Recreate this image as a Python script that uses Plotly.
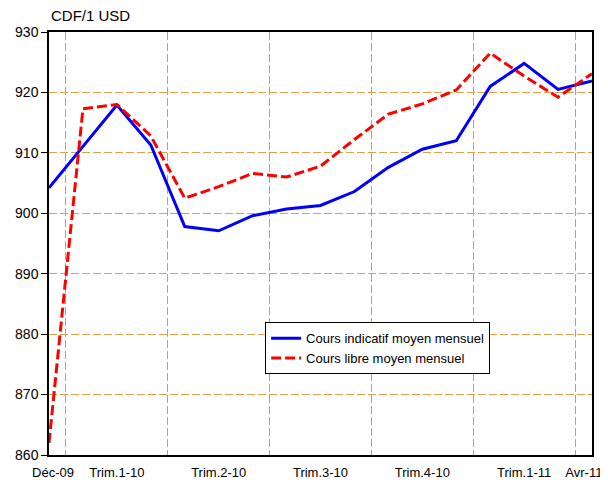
import plotly.graph_objects as go

months = ["Déc-09", "Jan-10", "Fév-10", "Mar-10", "Avr-10", "Mai-10", "Juin-10",
          "Juil-10", "Août-10", "Sep-10", "Oct-10", "Nov-10", "Déc-10",
          "Jan-11", "Fév-11", "Mar-11", "Avr-11"]
cours_indicatif = [904.2, 911.0, 917.9, 911.3, 897.8, 897.1, 899.6, 900.7, 901.3,
                   903.6, 907.6, 910.6, 912.0, 921.0, 924.8, 920.5, 921.9]
cours_libre = [862.0, 917.3, 918.0, 912.8, 902.5, 904.4, 906.6, 906.0, 907.8,
               912.2, 916.4, 918.1, 920.4, 926.5, 922.7, 919.2, 923.1]
label_pos = [0.12, 2, 5, 8, 11, 14, 15.76]
label_text = ["Déc-09", "Trim.1-10", "Trim.2-10", "Trim.3-10", "Trim.4-10", "Trim.1-11", "Avr-11"]
x_idx = list(range(len(months)))

grid_col = "#DFA24C"
fig = go.Figure()
fig.add_trace(go.Scatter(x=x_idx, y=cours_indicatif, mode="lines",
                         name="Cours indicatif moyen mensuel",
                         line=dict(color="#0000FF", width=3)))
fig.add_trace(go.Scatter(x=x_idx, y=cours_libre, mode="lines",
                         name="Cours libre moyen mensuel",
                         line=dict(color="#FF0000", width=3, dash="10px,4px")))
# invisible helper trace so the label axis is drawn
fig.add_trace(go.Scatter(x=x_idx, y=cours_indicatif, mode="lines", xaxis="x2",
                         line=dict(width=0, color="rgba(0,0,0,0)"),
                         showlegend=False, hoverinfo="skip"))

fig.update_layout(
    width=600, height=476,
    margin=dict(l=41, r=16, t=24, b=29, pad=0),
    paper_bgcolor="white", plot_bgcolor="white",
    font=dict(family="Liberation Sans, Arial", size=14, color="black"),
    showlegend=True,
    legend=dict(x=0.398, y=0.314, xanchor="left", yanchor="top",
                bordercolor="black", borderwidth=1, bgcolor="white",
                font=dict(size=13), tracegroupgap=0,
                itemwidth=30),
    xaxis=dict(range=[0, 16], tick0=0.5, dtick=3, showticklabels=False,
               showgrid=True, gridcolor="#DC9C3E", griddash="8px,3px", gridwidth=1.4,
               ticks="", zeroline=False, automargin=False,
               showline=True, linecolor="black", linewidth=1.5, mirror=True),
    xaxis2=dict(range=[0, 16], overlaying="x", anchor="y", side="bottom",
                tickvals=label_pos, ticktext=label_text,
                showgrid=False, ticks="", zeroline=False, automargin=False,
                showline=False, tickfont=dict(size=13), ticklabelstandoff=8),
    yaxis=dict(range=[860, 930], dtick=10, showgrid=True, gridcolor=grid_col,
               griddash="8px,3px", gridwidth=1, zeroline=False, automargin=False,
               ticks="outside", ticklen=6, tickcolor="black",
               showline=True, linecolor="black", linewidth=1.5, mirror=True),
    annotations=[dict(text="CDF/1 USD", xref="paper", yref="paper", x=0, y=1,
                      xanchor="left", yanchor="bottom", yshift=6, showarrow=False,
                      font=dict(size=15))],
)
fig.write_html("out.html")
